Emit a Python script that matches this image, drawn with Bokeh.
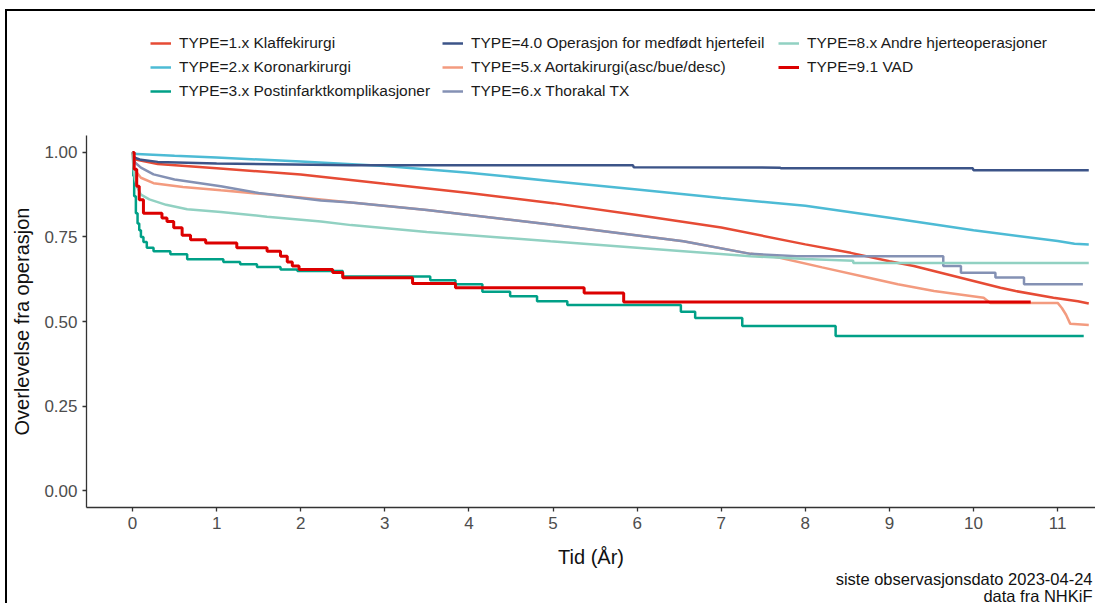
from bokeh.plotting import figure
from bokeh.layouts import column
from bokeh.models import Legend, LegendItem, FixedTicker, Range1d, Label
from bokeh.embed import file_html
from bokeh.resources import INLINE

# ---------------- data ----------------
labels = [
    "TYPE=1.x Klaffekirurgi",
    "TYPE=2.x Koronarkirurgi",
    "TYPE=3.x Postinfarktkomplikasjoner",
    "TYPE=4.0 Operasjon for medfødt hjertefeil",
    "TYPE=5.x Aortakirurgi(asc/bue/desc)",
    "TYPE=6.x Thorakal TX",
    "TYPE=8.x Andre hjerteoperasjoner",
    "TYPE=9.1 VAD",
]
colors = ["#E64B35", "#4DBBD5", "#00A087", "#3C5488", "#F39B7F", "#8491B4", "#91D1C2", "#DC0000"]

t1 = [0, 0.02, 0.05, 0.3, 1, 2, 3, 4, 5, 6, 7, 8, 8.54, 9, 9.29, 10, 10.32, 10.5, 10.95, 11.24, 11.37]
s1 = [1.0, 0.985, 0.978, 0.966, 0.953, 0.935, 0.907, 0.88, 0.85, 0.815, 0.778, 0.728, 0.703, 0.678, 0.664, 0.62, 0.60, 0.59, 0.57, 0.56, 0.553]

t2 = [0, 0.05, 0.5, 1, 2, 3, 4, 5, 6, 7, 8, 9, 10, 11, 11.2, 11.37]
s2 = [1.0, 0.995, 0.99, 0.985, 0.973, 0.96, 0.94, 0.915, 0.89, 0.865, 0.842, 0.807, 0.77, 0.738, 0.73, 0.728]

t3 = [0, 0.01, 0.02, 0.04, 0.06, 0.08, 0.1, 0.13, 0.17, 0.25, 0.45, 0.65, 1.08, 1.28, 1.48, 1.76, 1.96,
      2.5, 3.54, 3.84, 4.16, 4.49, 4.81, 5.17, 6.52, 6.69, 7.25, 8.36, 11.31]
s3 = [1.0, 0.93, 0.87, 0.82, 0.79, 0.77, 0.75, 0.735, 0.718, 0.708, 0.699, 0.684, 0.676, 0.669, 0.661, 0.654, 0.649,
      0.633, 0.622, 0.61, 0.588, 0.575, 0.56, 0.549, 0.529, 0.51, 0.487, 0.457, 0.457]

t4 = [0, 0.02, 0.1, 0.3, 1.0, 2.6, 5.95, 5.96, 7.7, 7.71, 9.99, 10.0, 11.37]
s4 = [1.0, 0.985, 0.978, 0.972, 0.967, 0.962, 0.962, 0.956, 0.955, 0.953, 0.953, 0.947, 0.947]

t5 = [0, 0.02, 0.1, 0.25, 0.6, 1.05, 1.6, 2.24, 2.6, 3.5, 4.97, 6.55, 7.35, 7.67, 8.2, 8.74, 9.1, 9.53,
      10.12, 10.2, 11.0, 11.05, 11.1, 11.15, 11.37]
s5 = [1.0, 0.95, 0.925, 0.909, 0.898, 0.888, 0.876, 0.861, 0.852, 0.83, 0.787, 0.737, 0.70, 0.69, 0.66, 0.63, 0.61, 0.59,
      0.57, 0.555, 0.555, 0.54, 0.52, 0.493, 0.49]

t6 = [0, 0.03, 0.1, 0.25, 0.5, 1.05, 1.5, 2.24, 2.6, 3.5, 4.97, 6.55, 7.35, 7.9, 9.64, 9.64, 9.85, 9.85,
      10.26, 10.26, 10.6, 10.6, 11.3]
s6 = [1.0, 0.97, 0.955, 0.935, 0.92, 0.90, 0.88, 0.858, 0.852, 0.83, 0.787, 0.737, 0.70, 0.693, 0.693, 0.664, 0.664, 0.644,
      0.644, 0.63, 0.63, 0.61, 0.61]

t8 = [0, 0.01, 0.03, 0.06, 0.1, 0.2, 0.4, 0.65, 1.05, 1.6, 2.24, 2.6, 3.5, 4.97, 6.55, 7.35, 8.0, 8.57, 8.57, 11.37]
s8 = [1.0, 0.96, 0.92, 0.895, 0.875, 0.861, 0.845, 0.832, 0.824, 0.81, 0.796, 0.785, 0.765, 0.737, 0.708, 0.693, 0.685,
      0.68, 0.673, 0.673]

t9 = [0, 0.02, 0.05, 0.08, 0.13, 0.35, 0.41, 0.49, 0.59, 0.69, 0.87, 1.24, 1.60, 1.76, 1.84, 1.90, 1.98,
      2.38, 2.5, 3.33, 3.84, 5.37, 5.84, 10.68]
s9 = [1.0, 0.95, 0.9, 0.86, 0.82, 0.806, 0.796, 0.777, 0.755, 0.742, 0.732, 0.718, 0.708, 0.693, 0.676, 0.664, 0.654,
      0.645, 0.629, 0.612, 0.60, 0.584, 0.558, 0.558]

x_ticks = [0, 1, 2, 3, 4, 5, 6, 7, 8, 9, 10, 11]
y_ticks = [0.0, 0.25, 0.5, 0.75, 1.0]
y_tick_labels = ["0.00", "0.25", "0.50", "0.75", "1.00"]

x_title = "Tid (År)"
y_title = "Overlevelse fra operasjon"
caption1 = "siste observasjonsdato 2023-04-24"
caption2 = "data fra NHKiF"

FONT = "Liberation Sans"
W = 1088
LW = [2.5, 2.5, 2.5, 2.5, 2.5, 2.5, 2.5, 3]
BORDER_LEFT = 79   # space left of the plotting area (aligned for all rows)

# ---------------- legend strip (top) ----------------
LH = 124
lf = figure(width=W, height=LH, output_backend="svg", toolbar_location=None,
            x_range=Range1d(0, 1), y_range=Range1d(0, 1),
            x_axis_type=None, y_axis_type=None,
            min_border_left=BORDER_LEFT, min_border_right=0, min_border_top=0, min_border_bottom=0)
lf.xgrid.visible = False
lf.ygrid.visible = False
lf.outline_line_color = None
# legend sample renderers (a single point off-range: nothing is drawn in the strip)
dummies = [lf.line(x=[-5], y=[-5], line_color=c, line_width=w) for c, w in zip(colors, LW)]

col_x = [64, 356, 692]
groups = [[0, 1, 2], [3, 4, 5], [6, 7]]
for cx, g in zip(col_x, groups):
    leg = Legend(items=[LegendItem(label=labels[i], renderers=[dummies[i]]) for i in g],
                 location=(cx, LH - 20 - 24 * len(g)), orientation="vertical",
                 border_line_color=None, background_fill_alpha=0,
                 padding=0, margin=0, spacing=0,
                 label_height=24, glyph_height=24, glyph_width=21, label_standoff=8,
                 label_text_font=FONT, label_text_font_size="15.5px",
                 label_text_color="#1a1a1a")
    lf.add_layout(leg)

# ---------------- main plot ----------------
p = figure(width=W, height=435, output_backend="svg", toolbar_location=None,
           x_range=Range1d(-0.547, 11.45), y_range=Range1d(-0.05, 1.05),
           min_border_left=BORDER_LEFT, min_border_right=0, min_border_top=0, min_border_bottom=63)
p.xgrid.visible = False
p.ygrid.visible = False
p.outline_line_color = None

p.line(t1, s1, line_color=colors[0], line_width=LW[0])
p.line(t2, s2, line_color=colors[1], line_width=LW[1])
p.step(t3, s3, mode="after", line_color=colors[2], line_width=LW[2])
p.line(t4, s4, line_color=colors[3], line_width=LW[3])
p.line(t5, s5, line_color=colors[4], line_width=LW[4])
p.line(t6, s6, line_color=colors[5], line_width=LW[5])
p.line(t8, s8, line_color=colors[6], line_width=LW[6])
p.step(t9, s9, mode="after", line_color=colors[7], line_width=LW[7])

for ax in (p.xaxis, p.yaxis):
    ax.axis_line_color = "#333333"
    ax.axis_line_width = 1.3
    ax.major_tick_line_color = "#333333"
    ax.major_tick_line_width = 1.3
    ax.major_tick_out = 4
    ax.major_tick_in = 0
    ax.minor_tick_line_color = None
    ax.major_label_text_font = FONT
    ax.major_label_text_font_size = "17px"
    ax.major_label_text_color = "#4D4D4D"
    ax.axis_label_text_font = FONT
    ax.axis_label_text_font_size = "20px"
    ax.axis_label_text_font_style = "normal"
    ax.axis_label_text_color = "#111111"

p.xaxis.ticker = FixedTicker(ticks=x_ticks)
p.yaxis.ticker = FixedTicker(ticks=y_ticks)
p.yaxis.major_label_overrides = {v: l for v, l in zip(y_ticks, y_tick_labels)}
p.xaxis.axis_label = x_title
p.yaxis.axis_label = y_title
p.xaxis.major_label_standoff = 5
p.xaxis.axis_label_standoff = 14
p.yaxis.major_label_standoff = 5
p.yaxis.axis_label_standoff = 8

# ---------------- caption strip (bottom) ----------------
CH = 33
cf = figure(width=W, height=CH, output_backend="svg", toolbar_location=None,
            x_range=Range1d(0, 1), y_range=Range1d(0, 1),
            x_axis_type=None, y_axis_type=None,
            min_border_left=BORDER_LEFT, min_border_right=0, min_border_top=0, min_border_bottom=0)
cf.xgrid.visible = False
cf.ygrid.visible = False
cf.outline_line_color = None
cap_x = W - BORDER_LEFT - 3
cf.add_layout(Label(x=cap_x, y=25, x_units="screen", y_units="screen", text=caption1,
                    text_align="right", text_baseline="middle",
                    text_font=FONT, text_font_size="16.5px", text_color="#111111"))
cf.add_layout(Label(x=cap_x, y=8, x_units="screen", y_units="screen", text=caption2,
                    text_align="right", text_baseline="middle",
                    text_font=FONT, text_font_size="16.5px", text_color="#111111"))

layout = column(lf, p, cf, spacing=0,
                styles={"margin-left": "5px", "margin-top": "9px",
                        "border-left": "2px solid black", "border-top": "2px solid black"})

open("out.html", "w").write(file_html(layout, INLINE))
